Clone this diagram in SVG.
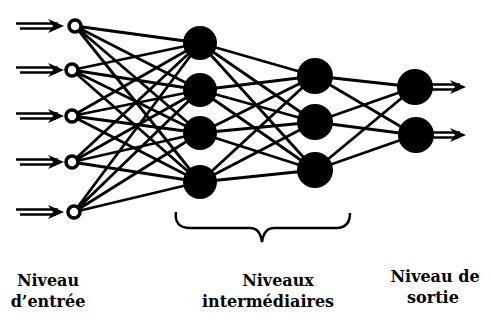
<svg xmlns="http://www.w3.org/2000/svg" width="492" height="324" viewBox="0 0 492 324">
<defs>
<path id="ah" d="M-16,-7 L0,0 L-16,7 L-11,0 Z" fill="#000"/>
<g id="inArrow">
<path d="M0,-2.5 H42 M4,2.5 H40" stroke="#000" stroke-width="2.5" fill="none"/>
<use href="#ah" x="48" y="0"/>
</g>
<g id="outArrow">
<path d="M0,-2.5 H30 M0,2.5 H28" stroke="#000" stroke-width="2.5" fill="none"/>
<use href="#ah" x="36" y="0"/>
</g>
</defs>
<style>
.c{stroke:#000;stroke-width:2.8;fill:none}
.in{fill:#fff;stroke:#000;stroke-width:3.5}
.n{fill:#000}
</style>
<rect width="492" height="324" fill="#fff"/>
<g id="connectors">
<use href="#inArrow" x="16" y="26"/>
<use href="#inArrow" x="16" y="70"/>
<use href="#inArrow" x="16" y="116"/>
<use href="#inArrow" x="16" y="162"/>
<use href="#inArrow" x="16" y="212"/>
<g class="c">
<path d="M75,26 L200,43 M75,26 L200,90 M75,26 L200,133 M75,26 L200,182"/>
<path d="M72,70 L200,43 M72,70 L200,90 M72,70 L200,133 M72,70 L200,182"/>
<path d="M72,116 L200,43 M72,116 L200,90 M72,116 L200,133 M72,116 L200,182"/>
<path d="M72,162 L200,43 M72,162 L200,90 M72,162 L200,133 M72,162 L200,182"/>
<path d="M74,212 L200,43 M74,212 L200,90 M74,212 L200,133 M74,212 L200,182"/>
</g>
<g class="c">
<path d="M200,43 L315,76 M200,43 L315,122 M200,43 L315,170"/>
<path d="M200,90 L315,76 M200,90 L315,122 M200,90 L315,170"/>
<path d="M200,133 L315,76 M200,133 L315,122 M200,133 L315,170"/>
<path d="M200,182 L315,76 M200,182 L315,122 M200,182 L315,170"/>
</g>
<g class="c">
<path d="M315,76 L415,87 M315,76 L415,135"/>
<path d="M315,122 L415,87 M315,122 L415,135"/>
<path d="M315,170 L415,87 M315,170 L415,135"/>
</g>
<use href="#outArrow" x="430" y="87"/>
<use href="#outArrow" x="430" y="135"/>
</g>
<g id="input-layer">
<circle class="in" cx="75" cy="26" r="6"/>
<circle class="in" cx="72" cy="70" r="6"/>
<circle class="in" cx="72" cy="116" r="6"/>
<circle class="in" cx="72" cy="162" r="6"/>
<circle class="in" cx="74" cy="212" r="6"/>
</g>
<g id="hidden-layer-1">
<circle class="n" cx="200" cy="43" r="17"/>
<circle class="n" cx="200" cy="90" r="17"/>
<circle class="n" cx="200" cy="133" r="17"/>
<circle class="n" cx="200" cy="182" r="17"/>
</g>
<g id="hidden-layer-2">
<circle class="n" cx="315" cy="76" r="18"/>
<circle class="n" cx="315" cy="122" r="18"/>
<circle class="n" cx="315" cy="170" r="18"/>
</g>
<g id="output-layer">
<circle class="n" cx="415" cy="87" r="18"/>
<circle class="n" cx="416" cy="135" r="18"/>
</g>
<g id="brace">
<path d="M176,212 Q174,228 190,228 H250 Q260,228 262,242 Q264,228 274,228 H336 Q350,228 350,213" fill="none" stroke="#000" stroke-width="2.5"/>
</g>
<g id="labels" font-family="DejaVu Serif, serif" font-weight="bold" font-size="16" fill="#000" text-anchor="middle">
<text x="48" y="286">Niveau</text>
<text x="48" y="307">d’entrée</text>
<text x="278" y="286">Niveaux</text>
<text x="268" y="307">intermédiaires</text>
<text x="435" y="282">Niveau de</text>
<text x="433" y="303">sortie</text>
</g>
</svg>
